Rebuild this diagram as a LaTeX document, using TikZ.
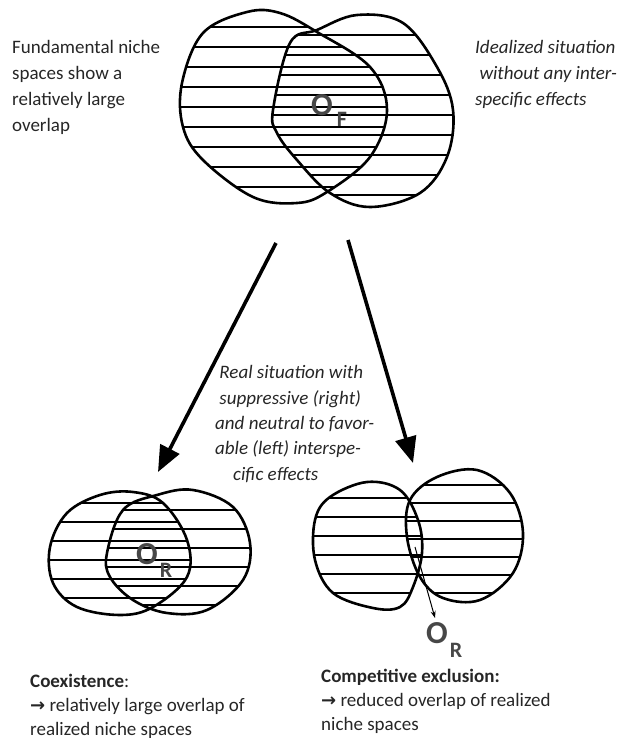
\documentclass[tikz,border=0pt]{standalone}
\usepackage{fontspec}
\setmainfont{Carlito}
\newfontfamily\arrowfont{DejaVu Sans}
\usetikzlibrary{arrows.meta}

\tikzset{
  blob/.style={line width=2.6pt, line join=round},
  hatch/.style={line width=1.1pt},
  bigarrow/.style={line width=3.6pt, -{Triangle[length=26pt,width=21pt]}},
  smallarrow/.style={line width=1pt, -{Stealth[length=7pt,width=5pt]}},
  txt/.style={anchor=base west, align=left, inner sep=0pt, text=black!85,
    font=\fontsize{19}{26}\selectfont},
  btxt/.style={txt, font=\fontsize{19}{24}\selectfont},
  olbl/.style={inner sep=0pt, text=black!72, font=\fontsize{32}{32}\selectfont\bfseries},
  osub/.style={inner sep=0pt, text=black!72, font=\fontsize{22}{22}\selectfont\bfseries},
}
\newcommand\rarr{{\arrowfont\bfseries\fontsize{18}{24}\selectfont →}}

% niche outlines
\def\topL{plot[smooth cycle,tension=.6] coordinates {(247,12) (203,33) (182,83) (183,127) (203,160) (253,197) (297,203) (327,192) (370,157) (387,110) (370,67) (317,32) (280,13)}}
\def\topR{plot[smooth cycle,tension=.6] coordinates {(273,110) (290,43) (317,30) (357,15) (403,23) (437,67) (453,110) (447,157) (420,193) (370,207) (330,193) (297,160) (277,133)}}
\def\coL{plot[smooth cycle,tension=.6] coordinates {(50,547) (67,513) (100,495) (133,492) (163,503) (187,540) (187,577) (153,607) (120,615) (77,607) (53,583)}}
\def\coR{plot[smooth cycle,tension=.6] coordinates {(107,553) (123,510) (157,495) (193,490) (233,507) (250,543) (243,580) (207,610) (167,613) (133,600) (110,577)}}
\def\exL{plot[smooth cycle,tension=.6] coordinates {(315,520) (330,497) (367,482) (400,490) (418,520) (422,553) (413,587) (400,607) (373,608) (333,593) (315,560)}}
\def\exR{plot[smooth cycle,tension=.6] coordinates {(410,500) (437,477) (477,470) (510,493) (523,533) (513,573) (480,600) (443,598) (420,577) (407,537)}}

\begin{document}
\begin{tikzpicture}[x=1pt,y=-1pt]
\useasboundingbox (0,0) rectangle (622,738);

\begin{scope}\clip \topL;
  \foreach \y in {27,47,...,187} \draw[hatch] (170,\y) -- (400,\y);
\end{scope}
\begin{scope}\clip \topR;
  \foreach \y in {35,55,...,195} \draw[hatch] (260,\y) -- (470,\y);
\end{scope}
\draw[blob] \topL; \draw[blob] \topR;

\begin{scope}\clip \coL;
  \foreach \y in {503,522,...,610} \draw[hatch] (40,\y) -- (200,\y);
\end{scope}
\begin{scope}\clip \coR;
  \foreach \y in {510,529,...,610} \draw[hatch] (100,\y) -- (260,\y);
\end{scope}
\draw[blob] \coL; \draw[blob] \coR;

\begin{scope}\clip \exL;
  \foreach \y in {498,517,...,600} \draw[hatch] (305,\y) -- (430,\y);
\end{scope}
\begin{scope}\clip \exR;
  \foreach \y in {485,503,...,600} \draw[hatch] (400,\y) -- (530,\y);
\end{scope}
\draw[blob] \exL; \draw[blob] \exR;

% overlap labels
\node[olbl] (OF) at (322,105) {O};
\node[osub] (OFsub) at (342,119) {F};
\node[olbl] (ORl) at (147,554) {O};
\node[osub] (ORlsub) at (166,570) {R};
\node[olbl] (ORr) at (437,633) {O};
\node[osub] (ORrsub) at (456,650) {R};

% texts (placed at the baseline of their last line)
\node[txt] (fundtext) at (12,132) {Fundamental niche\\spaces show a\\relatively large\\overlap};
\node[txt] (idealtext) at (475,106) {\itshape Idealized situation\\\itshape \ without any inter-\\\itshape specific effects};
\node[txt, font=\fontsize{19}{25.3}\selectfont\itshape] (realtext) at (215,480)
  {\ Real situation with\\\ suppressive (right)\\and neutral to favor-\\able (left) interspe-\\\hspace{18pt}cific effects};
\node[btxt] (coextext) at (30,735) {\textbf{Coexistence}:\\\rarr{} relatively large overlap of\\realized niche spaces};
\node[btxt] (excltext) at (321,730) {\textbf{Competitive exclusion:}\\\rarr{} reduced overlap of realized\\niche spaces};

% arrows
\coordinate (splitL) at (276,243);
\coordinate (splitR) at (348,240);
\coordinate (tipL) at (158,472);
\coordinate (tipR) at (413,463);
\draw[bigarrow] (splitL) -- (tipL);
\draw[bigarrow] (splitR) -- (tipR);
\coordinate (exOverlap) at (415,547);
\coordinate (exLabel) at (435,618);
\draw[smallarrow] (exOverlap) -- (exLabel);
\end{tikzpicture}
\end{document}
